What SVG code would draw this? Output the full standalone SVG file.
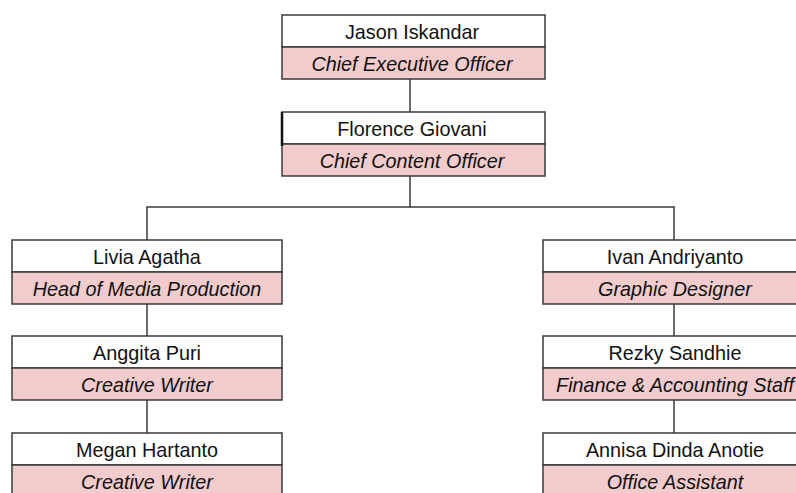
<svg xmlns="http://www.w3.org/2000/svg" width="796" height="493" viewBox="0 0 796 493">
<style>
.n{fill:#ffffff;stroke:#3a3a3a;stroke-width:1.5}
.t{fill:#f2cccc;stroke:#3a3a3a;stroke-width:1.5}
.c{fill:none;stroke:#3a3a3a;stroke-width:1.5}
text{font-family:"Liberation Sans",Arial,sans-serif;font-size:19.8px;fill:#111;text-anchor:middle}
.i{font-style:italic}
</style>
<rect width="796" height="493" fill="#ffffff"/>
<g id="connectors">
<path class="c" d="M410 79V112"/>
<path class="c" d="M410 176V207H147V240"/>
<path class="c" d="M410 207H674V240"/>
<path class="c" d="M147 304V336"/>
<path class="c" d="M147 400V433"/>
<path class="c" d="M674 304V336"/>
<path class="c" d="M674 400V433"/>
</g>
<g id="ceo">
<rect class="n" x="282" y="15" width="263" height="32"/>
<rect class="t" x="282" y="47" width="263" height="32"/>
<text x="412" y="39">Jason Iskandar</text>
<text class="i" x="412" y="71">Chief Executive Officer</text>
</g>
<g id="cco">
<rect class="n" x="282" y="112" width="263" height="32"/>
<rect class="t" x="282" y="144" width="263" height="32"/>
<path d="M282 112V146" stroke="#111" stroke-width="2.5"/>
<text x="412" y="136">Florence Giovani</text>
<text class="i" x="412" y="168">Chief Content Officer</text>
</g>
<g id="livia">
<rect class="n" x="12" y="240" width="270" height="32"/>
<rect class="t" x="12" y="272" width="270" height="32"/>
<text x="147" y="264">Livia Agatha</text>
<text class="i" x="147" y="296">Head of Media Production</text>
</g>
<g id="anggita">
<rect class="n" x="12" y="336" width="270" height="32"/>
<rect class="t" x="12" y="368" width="270" height="32"/>
<text x="147" y="360">Anggita Puri</text>
<text class="i" x="147" y="392">Creative Writer</text>
</g>
<g id="megan">
<rect class="n" x="12" y="433" width="270" height="32"/>
<rect class="t" x="12" y="465" width="270" height="32"/>
<text x="147" y="457">Megan Hartanto</text>
<text class="i" x="147" y="489">Creative Writer</text>
</g>
<g id="ivan">
<rect class="n" x="543" y="240" width="266" height="32"/>
<rect class="t" x="543" y="272" width="266" height="32"/>
<text x="675" y="264">Ivan Andriyanto</text>
<text class="i" x="675" y="296">Graphic Designer</text>
</g>
<g id="rezky">
<rect class="n" x="543" y="336" width="266" height="32"/>
<rect class="t" x="543" y="368" width="266" height="32"/>
<text x="675" y="360">Rezky Sandhie</text>
<text class="i" x="675" y="392">Finance &amp; Accounting Staff</text>
</g>
<g id="annisa">
<rect class="n" x="543" y="433" width="266" height="32"/>
<rect class="t" x="543" y="465" width="266" height="32"/>
<text x="675" y="457">Annisa Dinda Anotie</text>
<text class="i" x="675" y="489">Office Assistant</text>
</g>
</svg>
